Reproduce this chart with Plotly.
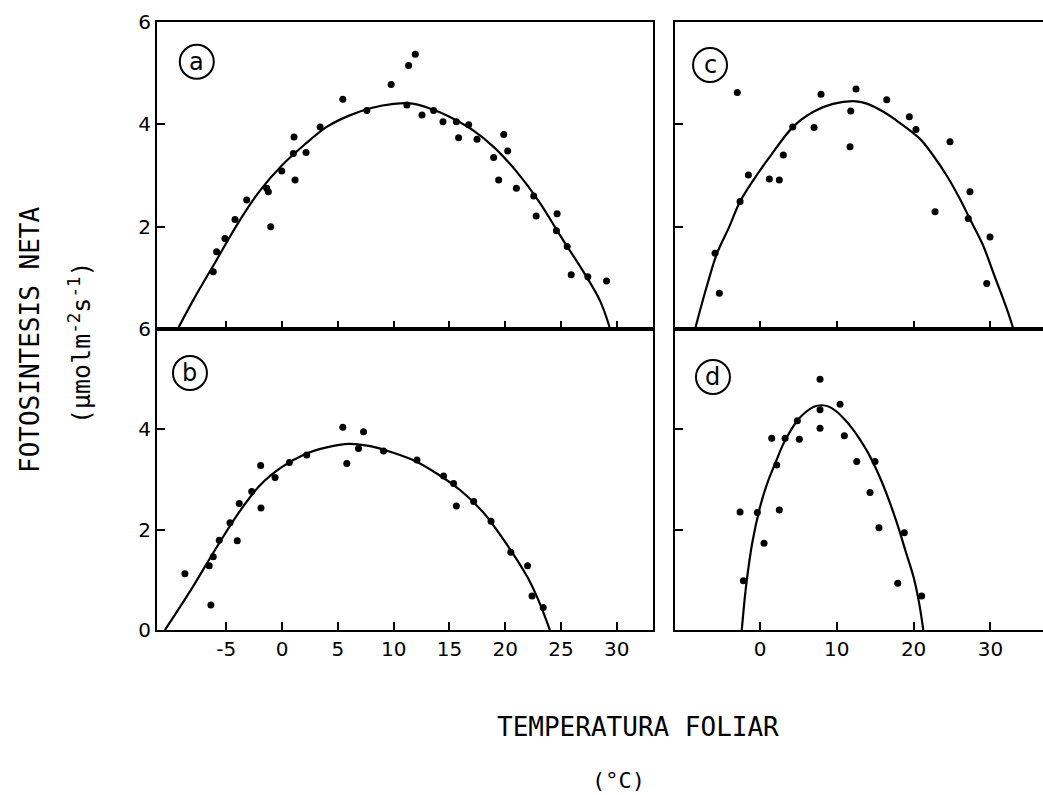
import plotly.graph_objects as go

# ---------------- data ----------------
# Panel a
a_pts_t = [-6.17, -5.87, -5.12, -4.22, -3.17, -1.38, -1.23, -1.02, -0.03, 1.01, 1.07, 1.16, 2.15,
           3.41, 5.44, 7.6, 9.78, 11.19, 11.34, 11.94, 12.54, 13.58, 14.42, 15.62, 15.82, 16.72,
           17.47, 18.96, 19.41, 19.86, 20.22, 21.0, 22.55, 22.77, 24.65, 24.59, 25.55, 25.91,
           27.4, 29.08]
a_pts_v = [1.12, 1.51, 1.77, 2.14, 2.52, 2.75, 2.68, 2.00, 3.09, 3.43, 3.75, 2.91, 3.45,
           3.95, 4.49, 4.27, 4.78, 4.38, 5.15, 5.37, 4.18, 4.27, 4.05, 4.05, 3.74, 3.99,
           3.71, 3.35, 2.91, 3.80, 3.48, 2.75, 2.60, 2.21, 2.25, 1.92, 1.61, 1.06,
           1.02, 0.94]
a_fit_t = [-9.35, -8.0, -6.0, -4.0, -2.0, 0.0, 2.0, 4.0, 6.0, 8.0, 10.0, 11.5, 13.0, 15.0,
           17.0, 19.0, 21.0, 23.0, 25.0, 27.0, 28.5, 29.4]
a_fit_v = [0.0, 0.55, 1.3, 2.05, 2.7, 3.2, 3.6, 3.95, 4.17, 4.32, 4.40, 4.41, 4.33, 4.15,
           3.9, 3.55, 3.08, 2.5, 1.8, 1.12, 0.55, 0.0]

# Panel b
b_pts_t = [-8.71, -6.38, -6.53, -6.17, -5.63, -4.67, -4.02, -3.84, -2.72, -1.92, -1.89, -0.63,
           0.65, 2.21, 5.44, 5.8, 6.85, 7.3, 9.09, 12.09, 14.48, 15.37, 15.62, 17.17, 18.73,
           20.5, 22.0, 22.4, 23.4]
b_pts_v = [1.12, 0.50, 1.28, 1.46, 1.79, 2.14, 1.78, 2.52, 2.76, 3.28, 2.43, 3.04,
           3.34, 3.49, 4.04, 3.32, 3.62, 3.95, 3.57, 3.39, 3.07, 2.92, 2.47, 2.56, 2.17,
           1.55, 1.28, 0.68, 0.45]
b_fit_t = [-10.5, -8.0, -6.0, -4.0, -2.0, 0.0, 2.0, 4.0, 6.0, 8.0, 10.0, 12.0, 14.0, 16.0,
           18.0, 20.0, 22.0, 23.0, 24.0]
b_fit_v = [0.0, 0.86, 1.6, 2.3, 2.88, 3.25, 3.5, 3.64, 3.71, 3.66, 3.53, 3.36, 3.1, 2.78,
           2.35, 1.75, 1.05, 0.58, 0.0]

# Panel c
c_pts_t = [-2.96, -5.86, -5.30, -2.60, -1.52, 1.21, 2.51, 3.03, 4.26, 7.03, 7.94, 11.72, 11.81,
           12.5, 16.5, 19.44, 20.31, 24.74, 22.79, 27.34, 27.12, 29.95, 29.52]
c_pts_v = [4.62, 1.48, 0.70, 2.49, 3.01, 2.93, 2.91, 3.40, 3.95, 3.94, 4.59, 3.56, 4.26,
           4.69, 4.48, 4.15, 3.90, 3.66, 2.29, 2.68, 2.16, 1.80, 0.89]
c_fit_t = [-8.46, -7.0, -5.6, -4.0, -2.6, 0.0, 1.3, 4.3, 7.0, 9.5, 12.5, 14.0, 16.0, 18.0,
           20.8, 22.5, 24.3, 26.0, 27.3, 29.0, 30.5, 32.0, 33.0]
c_fit_v = [0.0, 0.8, 1.48, 2.0, 2.49, 3.1, 3.37, 3.95, 4.25, 4.4, 4.45, 4.4, 4.25, 4.05,
           3.72, 3.4, 3.0, 2.55, 2.16, 1.65, 1.05, 0.45, 0.0]

# Panel d
d_pts_t = [-2.60, -2.17, -0.35, 0.52, 2.51, 1.52, 2.17, 3.26, 5.12, 4.86, 7.81, 7.81, 7.81,
           10.42, 10.98, 12.59, 14.97, 14.32, 15.49, 18.79, 17.93, 21.05]
d_pts_v = [2.35, 0.98, 2.34, 1.73, 2.39, 3.82, 3.29, 3.82, 3.80, 4.17, 5.0, 4.39, 4.02,
           4.50, 3.87, 3.36, 3.36, 2.74, 2.04, 1.94, 0.93, 0.68]
d_fit_t = [-2.38, -1.8, -1.0, 0.0, 1.0, 2.0, 3.0, 4.0, 5.0, 6.0, 7.0, 8.0, 9.0, 10.0, 11.0,
           12.0, 13.0, 14.0, 15.0, 16.0, 17.0, 18.0, 19.0, 20.0, 20.7, 21.26]
d_fit_v = [0.0, 0.9, 1.75, 2.45, 2.95, 3.33, 3.7, 3.98, 4.2, 4.35, 4.45, 4.48, 4.45, 4.35,
           4.2, 4.02, 3.8, 3.55, 3.25, 2.9, 2.5, 2.05, 1.55, 1.05, 0.55, 0.0]

panel_labels = ["a", "b", "c", "d"]
left_xticks = [-5, 0, 5, 10, 15, 20, 25, 30]
right_xticks = [0, 10, 20, 30]
top_yticks = [2, 4, 6]
bottom_yticks = [0, 2, 4, 6]

y_title = "FOTOSINTESIS NETA"
y_units = "(μmolm<sup>-2</sup>s<sup>-1</sup>)"
x_title = "TEMPERATURA FOLIAR"
x_units = "(°C)"

# ---------------- figure ----------------
fig = go.Figure()
mono = "DejaVu Sans Mono"
num_font = dict(family="DejaVu Sans", size=20, color="black")

panels = [
    (a_pts_t, a_pts_v, a_fit_t, a_fit_v, "x", "y"),
    (b_pts_t, b_pts_v, b_fit_t, b_fit_v, "x2", "y2"),
    (c_pts_t, c_pts_v, c_fit_t, c_fit_v, "x3", "y3"),
    (d_pts_t, d_pts_v, d_fit_t, d_fit_v, "x4", "y4"),
]
for pt, pv, ft, fv, xa, ya in panels:
    fig.add_trace(go.Scatter(x=ft, y=fv, mode="lines", xaxis=xa, yaxis=ya,
                             line=dict(color="black", width=2.2, shape="spline", smoothing=1.0),
                             showlegend=False, hoverinfo="skip"))
    fig.add_trace(go.Scatter(x=pt, y=pv, mode="markers", xaxis=xa, yaxis=ya,
                             marker=dict(color="black", size=7, symbol="circle"),
                             showlegend=False))

LX = [0, 0.5598]
RX = [0.5847, 1.0]
TY = [0.4951, 1.0]
BY = [0.0, 0.4951]
LR = [-11.21, 33.24]
RR = [-11.07, 36.85]

def xax(domain, rng, ticks, labels, anchor, mirror=True):
    return dict(domain=domain, range=rng, anchor=anchor, tickvals=ticks,
                ticktext=[str(t) for t in ticks], showticklabels=labels,
                ticks="inside", ticklen=8, tickwidth=2, tickcolor="black",
                showline=True, linecolor="black", linewidth=2, mirror=mirror,
                showgrid=False, zeroline=False, tickfont=num_font)

def yax(domain, ticks, labels, anchor, mirror=True):
    return dict(domain=domain, range=[0, 6], anchor=anchor, tickvals=ticks,
                ticktext=[str(t) for t in ticks], showticklabels=labels,
                ticks="inside", ticklen=8, tickwidth=2, tickcolor="black",
                showline=True, linecolor="black", linewidth=2, mirror=mirror,
                showgrid=False, zeroline=False, tickfont=num_font)

fig.update_layout(
    width=1043, height=795,
    margin=dict(l=157, r=0, t=22, b=165),
    paper_bgcolor="white", plot_bgcolor="white",
    xaxis=xax(LX, LR, left_xticks, False, "y"),
    yaxis=yax(TY, top_yticks, True, "x"),
    xaxis2=xax(LX, LR, left_xticks, True, "y2"),
    yaxis2=yax(BY, bottom_yticks, True, "x2"),
    xaxis3=xax(RX, RR, right_xticks, False, "y3"),
    yaxis3=yax(TY, top_yticks, False, "x3", mirror=False),
    xaxis4=xax(RX, RR, right_xticks, True, "y4"),
    yaxis4=yax(BY, bottom_yticks, False, "x4", mirror=False),
)

# circled panel letters (paper coordinates)
letter_pos = [(0.0449, 0.9347), (0.0372, 0.4227), (0.6242, 0.9293), (0.6275, 0.4161)]
shapes = []
annots = []
for lab, (px, py) in zip(panel_labels, letter_pos):
    shapes.append(dict(type="circle", xref="paper", yref="paper", xsizemode="pixel",
                       ysizemode="pixel", xanchor=px, yanchor=py, x0=-17, x1=17, y0=-17, y1=17,
                       line=dict(color="black", width=2)))
    annots.append(dict(text=lab, x=px, y=py, xref="paper", yref="paper", showarrow=False,
                       xanchor="center", yanchor="middle",
                       font=dict(family="DejaVu Sans", size=24, color="black")))

annots.append(dict(text=y_title, x=-0.1433, y=0.477, xref="paper", yref="paper", showarrow=False,
                   textangle=-90, xanchor="center", yanchor="middle",
                   font=dict(family=mono, size=26, color="black")))
annots.append(dict(text=y_units, x=-0.0869, y=0.472, xref="paper", yref="paper", showarrow=False,
                   textangle=-90, xanchor="center", yanchor="middle",
                   font=dict(family=mono, size=25, color="black")))
annots.append(dict(text=x_title, x=(638 - 157) / 886, y=(630 - 727) / 608, xref="paper", yref="paper",
                   showarrow=False, xanchor="center", yanchor="middle",
                   font=dict(family=mono, size=26, color="black")))
annots.append(dict(text=x_units, x=(618 - 157) / 886, y=(630 - 780) / 608, xref="paper", yref="paper",
                   showarrow=False, xanchor="center", yanchor="middle",
                   font=dict(family=mono, size=22, color="black")))

fig.update_layout(shapes=shapes, annotations=annots)

fig.write_html("out.html")
